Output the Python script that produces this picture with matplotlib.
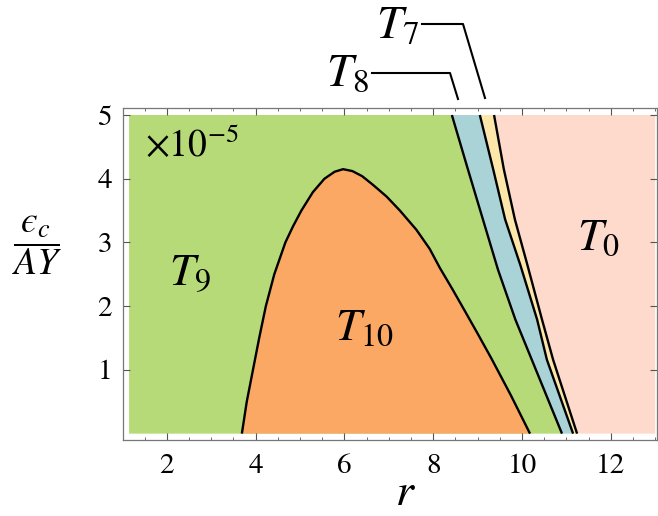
import matplotlib
matplotlib.use("Agg")
import matplotlib.pyplot as plt
from matplotlib.lines import Line2D
from matplotlib.ticker import MultipleLocator

plt.rcParams['mathtext.fontset'] = 'stix'
plt.rcParams['font.family'] = ['STIXGeneral', 'DejaVu Serif']

# ---- data (units of 1e-5 on y) ----
r_min, r_max = 1.15, 13.0
eps_min, eps_max = 0.0, 5.0

# T10 hump boundary (r, eps)
hump_r = [3.69, 3.80, 3.94, 4.08, 4.23, 4.42, 4.67, 4.84, 5.03, 5.29, 5.55, 5.78, 5.97,
          6.18, 6.40, 6.65, 6.95, 7.25, 7.62, 7.92, 8.15, 8.43, 8.70, 9.00, 9.31, 9.75, 10.18]
hump_e = [0.00, 0.50, 1.00, 1.50, 2.00, 2.50, 3.00, 3.25, 3.50, 3.79, 4.00, 4.11, 4.15,
          4.12, 4.04, 3.90, 3.72, 3.50, 3.20, 2.90, 2.60, 2.27, 1.94, 1.57, 1.18, 0.60, 0.00]

# T9/T8 boundary
b98_e = [5.00, 4.15, 3.36, 2.57, 1.79, 1.16, 0.00]
b98_r = [8.42, 8.78, 9.12, 9.46, 9.85, 10.22, 10.90]
# T8/T7 boundary
b87_e = [5.00, 4.15, 3.36, 2.65, 1.79, 1.16, 0.00]
b87_r = [9.05, 9.35, 9.62, 9.96, 10.34, 10.56, 11.15]
# T7/T0 boundary
b70_e = [5.00, 4.15, 3.36, 2.65, 1.79, 1.16, 0.00]
b70_r = [9.37, 9.59, 9.84, 10.12, 10.45, 10.70, 11.24]

region_labels = [r'$T_9$', r'$T_{10}$', r'$T_0$']
region_pos = [(2.52, 2.5), (6.46, 1.63), (11.71, 3.05)]

c_green = '#b7da78'
c_orange = '#faa864'
c_blue = '#aad3d8'
c_yellow = '#fde6aa'
c_pink = '#fddacc'

W, H = 658, 516
fig = plt.figure(figsize=(W/100, H/100), dpi=100)
ax = fig.add_axes([123/W, 1-440/H, (657-123)/W, (440-108)/H])

# green background region (T9)
ax.fill([r_min] + b98_r + [r_min], [eps_max] + b98_e + [eps_min], color=c_green, lw=0)
# blue (T8) between b98 and b87
ax.fill(b98_r + b87_r[::-1], b98_e + b87_e[::-1], color=c_blue, lw=0)
# yellow (T7) between b87 and b70
ax.fill(b87_r + b70_r[::-1], b87_e + b70_e[::-1], color=c_yellow, lw=0)
# pink (T0)
ax.fill(b70_r + [r_max, r_max], b70_e + [eps_min, eps_max], color=c_pink, lw=0)
# orange (T10)
ax.fill(hump_r, hump_e, color=c_orange, lw=0)

for xs, ys in [(hump_r, hump_e), (b98_r, b98_e), (b87_r, b87_e), (b70_r, b70_e)]:
    ax.plot(xs, ys, color='black', lw=1.7, solid_capstyle='butt', solid_joinstyle='round')

ax.set_xlim(1.013, 13.04)
ax.set_ylim(-0.10, 5.11)

ax.xaxis.set_minor_locator(MultipleLocator(0.5))
ax.set_yticks([1, 2, 3, 4, 5])
ax.set_xticks([2, 4, 6, 8, 10, 12])
ax.tick_params(which='both', direction='in', top=True, right=True, colors='#555555',
               labelcolor='black', labelsize=21)
ax.tick_params(which='major', length=5, width=0.8)
ax.tick_params(which='minor', length=2.5, width=0.6)
ax.tick_params(axis='x', pad=10)
ax.tick_params(axis='y', pad=8)
for s in ax.spines.values():
    s.set_color('#777777')
    s.set_linewidth(0.9)

for lab, (x, y) in zip(region_labels, region_pos):
    ax.text(x, y, lab, fontsize=33, ha='center', va='center')

ax.text(1.5, 4.52, r'$\times 10^{-5}$', fontsize=27, ha='left', va='center')

# axis labels
fig.text(405/W, 1-494/H, r'$r$', fontsize=33, ha='center', va='center')
fig.text(37/W, 1-245/H, '$\\dfrac{\u03f5_c}{AY}$', fontsize=27, ha='center', va='center')

# annotations for thin regions
def fpt(x, y):
    return x/W, 1-y/H

for pts in [[(372, 73), (450, 73), (458, 99)], [(422, 24), (463, 24), (485, 98)]]:
    xs = [fpt(*p)[0] for p in pts]
    ys = [fpt(*p)[1] for p in pts]
    fig.add_artist(Line2D(xs, ys, color='black', lw=1.5, transform=fig.transFigure))

fig.text(*fpt(369, 74), r'$T_8$', fontsize=34, ha='right', va='center')
fig.text(*fpt(419, 27), r'$T_7$', fontsize=34, ha='right', va='center')

fig.savefig('out.png', dpi=100)
